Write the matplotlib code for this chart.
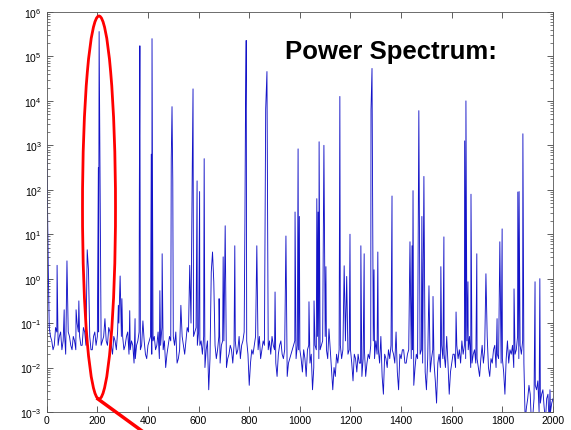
import numpy as np
import pandas as pd
import matplotlib
matplotlib.use("Agg")
import matplotlib.pyplot as plt
from matplotlib.patches import Ellipse
from matplotlib.lines import Line2D
from matplotlib.ticker import LogLocator, NullFormatter

plt.rcParams["font.family"] = ["Liberation Sans", "DejaVu Sans"]

# noise floor, log10(power), read every 10 Hz from 0 to 2000
floor_x = np.arange(0, 2001, 10)
floor_log = [
    3.1, -1.1, -1.4, -1.5, -1.2, -1.3, -1.6, -1.2, -1.5, -1.3,
    -1.6, -1.4, -1.0, -1.3, -1.5, -1.2, -1.4, -1.3, -1.6, -1.2,
    -1.3, -1.1, -1.4, -1.6, -1.5, -1.2, -1.7, -1.4, -1.2, -1.4,
    -1.3, -1.5, -1.2, -1.6, -1.5, -1.8, -1.4, -1.6, -1.3, -1.7,
    -1.5, -1.3, -1.4, -1.6, -1.2, -1.5, -1.6, -2.0, -1.5, -1.4,
    -1.3, -1.2, -1.8, -2.4, -1.5, -1.4, -1.2, -1.0, -1.3, -1.1,
    -1.2, -1.4, -1.3, -1.6, -2.5, -1.6, -1.4, -1.8, -1.3, -1.5,
    -1.4, -2.0, -1.7, -1.6, -1.5, -1.7, -1.3, -1.5, -1.2, -1.4,
    -2.4, -1.6, -1.5, -1.7, -1.3, -1.6, -1.5, -1.5, -1.4, -1.3,
    -1.6, -2.2, -1.5, -1.7, -1.6, -2.2, -1.8, -1.6, -1.4, -1.5,
    -1.6, -2.1, -1.8, -1.6, -1.9, -2.5, -1.5, -1.3, -1.6, -1.4,
    -1.3, -1.8, -1.6, -2.5, -2.2, -1.9, -1.5, -1.6, -1.4, -1.7,
    -1.6, -2.3, -1.8, -1.7, -1.9, -1.8, -2.2, -1.7, -1.5, -1.4,
    -1.4, -1.6, -1.3, -2.6, -1.8, -1.6, -1.5, -1.7, -1.2, -2.5,
    -1.8, -1.6, -1.9, -1.6, -1.8, -2.4, -1.7, -1.5, -1.6, -1.4,
    -2.5, -1.6, -1.8, -1.9, -2.8, -1.7, -1.5, -1.7, -1.3, -2.6,
    -1.9, -1.7, -1.5, -1.6, -1.4, -1.5, -1.4, -1.3, -1.9, -1.6,
    -1.8, -2.2, -1.5, -1.6, -1.3, -2.2, -1.9, -1.5, -1.7, -1.6,
    -1.8, -2.6, -1.4, -1.6, -1.5, -1.7, -1.3, -1.5, -1.4, -3.2,
    -2.7, -2.6, -3.1, -2.4, -2.3, -2.8, -2.5, -3.2, -2.6, -3.0,
    -2.7,
]

# noise floor in between, at 5, 15, ... 1995 Hz
mid_x = np.arange(5, 2000, 10)
mid_log = [
    0.8, -1.3, -1.6, -1.1, -1.5, -1.2, -1.4, -1.7, -1.2, -1.5,
    -1.3, -1.6, -1.2, -1.5, -1.1, -1.5, -1.2, -1.6, -1.3, -1.5,
    -1.2, -1.5, -1.3, -1.4, -1.1, -1.5, -1.3, -1.6, -1.0, -1.3,
    -1.6, -1.3, -1.7, -1.4, -1.9, -1.5, -1.2, -1.5, -1.4, -1.8,
    -1.4, -1.7, -1.3, -1.5, -1.8, -1.1, -1.4, -1.7, -1.3, -1.6,
    -1.5, -1.9, -1.6, -1.3, -1.7, -1.1, -1.5, -1.4, -1.2, -1.5,
    -1.5, -1.7, -2.0, -1.4, -1.8, -1.3, -1.5, -1.6, -1.9, -1.4,
    -1.6, -1.8, -1.5, -1.9, -1.4, -1.6, -1.8, -1.4, -1.6, -1.7,
    -1.9, -1.7, -1.3, -1.6, -1.8, -1.4, -1.7, -1.6, -1.7, -1.5,
    -1.9, -1.7, -1.4, -1.8, -1.5, -1.9, -1.7, -1.5, -1.8, -1.6,
    -1.8, -1.6, -2.2, -1.5, -1.7, -2.0, -1.6, -1.8, -1.5, -1.6,
    -1.6, -1.9, -2.1, -2.0, -1.7, -1.6, -1.8, -1.5, -1.8, -1.6,
    -1.9, -1.7, -2.1, -1.9, -2.2, -1.6, -1.9, -1.8, -1.6, -1.8,
    -1.7, -1.9, -2.2, -1.7, -2.0, -1.8, -1.6, -1.9, -2.1, -1.7,
    -1.6, -1.9, -1.7, -2.0, -1.6, -2.0, -1.8, -1.7, -1.9, -2.1,
    -1.8, -2.1, -1.6, -2.3, -1.9, -2.0, -1.8, -2.0, -1.9, -2.1,
    -1.7, -2.0, -1.8, -1.9, -1.7, -1.8, -1.6, -2.0, -1.7, -1.9,
    -2.0, -1.8, -1.9, -1.7, -2.0, -1.8, -1.6, -2.0, -1.8, -1.9,
    -2.1, -1.8, -1.9, -1.7, -2.0, -1.6, -1.8, -1.7, -1.9, -2.9,
    -2.4, -3.3, -2.7, -2.5, -3.0, -2.6, -2.9, -2.7, -3.3, -2.8,
]

# spectral lines, frequency and log10(power)
peak_x = [
    3, 6, 41, 69, 80, 116, 127, 160, 165,
    204, 207, 210, 230, 283, 290, 297,
    328, 349, 366, 368, 380, 413, 416, 447, 456,
    492, 495, 498, 530, 565, 575, 578, 594, 604, 622, 650,
    655, 660, 681, 697, 705, 743, 783, 785, 788, 830,
    865, 870, 902, 945, 981, 993, 998,
    1036, 1056, 1067, 1072, 1076, 1095, 1103, 1115,
    1158, 1175, 1185, 1198, 1241, 1254, 1281, 1285, 1293, 1308,
    1364, 1435, 1443, 1447, 1470, 1482, 1490, 1510, 1526,
    1557, 1569, 1617, 1651, 1656, 1664, 1676, 1699, 1735,
    1779, 1790, 1799, 1846, 1861, 1866, 1881, 1929, 1948, 1988,
]
peak_log = [
    1.6, 0.3, 0.3, -0.7, 0.4, -0.7, -0.5, 0.65, 0.2,
    2.5, 5.56, 3.0, -0.9, -0.6, 0.06, -0.45,
    -0.72, -0.9, 2.0, 5.24, -0.95, 2.8, 5.40, -0.27, 0.56,
    2.7, 3.87, 2.2, -0.6, 0.3, 2.5, 4.27, 2.2, 1.96, 2.7, 0.15,
    0.6, -0.07, -0.45, 0.49, 1.19, 0.74, 1.3, 3.5, 5.36, 0.74,
    3.82, 4.66, -0.3, 0.96, 1.5, 2.92, 1.4,
    -0.52, -0.5, 1.8, 1.5, 3.08, 3.0, 0.27, -1.13,
    4.1, 0.29, 0.05, 1.0, 0.74, 0.56, 3.8, 4.73, 0.2, 0.6,
    1.86, 0.83, 0.74, 1.98, 3.78, 1.4, 2.3, -0.16, -0.4,
    0.27, 0.94, -0.75, 3.1, 4.0, -0.07, 1.9, 0.56, 0.11,
    -0.9, 0.83, 1.12, -0.23, 1.95, 1.96, 3.26, -0.07, 0.0, -2.5,
]

trace = pd.concat([pd.Series(floor_log, index=floor_x),
                   pd.Series(mid_log, index=mid_x),
                   pd.Series(peak_log, index=peak_x)])
trace = trace.groupby(level=0).max().sort_index()
freq = trace.index.values
power = 10.0 ** trace.values

fig = plt.figure(figsize=(5.71, 4.31), dpi=100)
ax = fig.add_axes([0.0818, 0.0418, 0.8867, 0.928])
ax.semilogy(freq, power, color="#1414c8", lw=0.65)
ax.set_xlim(0, 2000)
ax.set_ylim(1e-3, 1e6)
ax.set_xticks(np.arange(0, 2001, 200))
ax.yaxis.set_major_locator(LogLocator(base=10, numticks=20))
ax.yaxis.set_minor_locator(LogLocator(base=10, subs=np.arange(2, 10), numticks=20))
ax.yaxis.set_minor_formatter(NullFormatter())
ax.tick_params(which="both", direction="in", top=True, right=True,
               labelsize=7.5, color="#444444")
ax.tick_params(which="major", length=4, width=0.6)
ax.tick_params(which="minor", length=2, width=0.5)
ax.tick_params(axis="x", pad=2)
for s in ax.spines.values():
    s.set_linewidth(0.6)
    s.set_color("#555555")

ax.text(0.47, 0.9025, "Power Spectrum:", transform=ax.transAxes,
        fontsize=18.5, fontweight="bold", va="center", ha="left")

# red highlight of the fundamental
ell = Ellipse((99 / 571, 1 - 208.5 / 431), 33 / 571, 383 / 431,
              transform=fig.transFigure, fill=False, ec="red", lw=2)
fig.add_artist(ell)
fig.add_artist(Line2D([98 / 571, 142 / 571], [1 - 400 / 431, 1 - 432 / 431],
                      transform=fig.transFigure, color="red", lw=2.5))

fig.savefig("out.png", dpi=100)
